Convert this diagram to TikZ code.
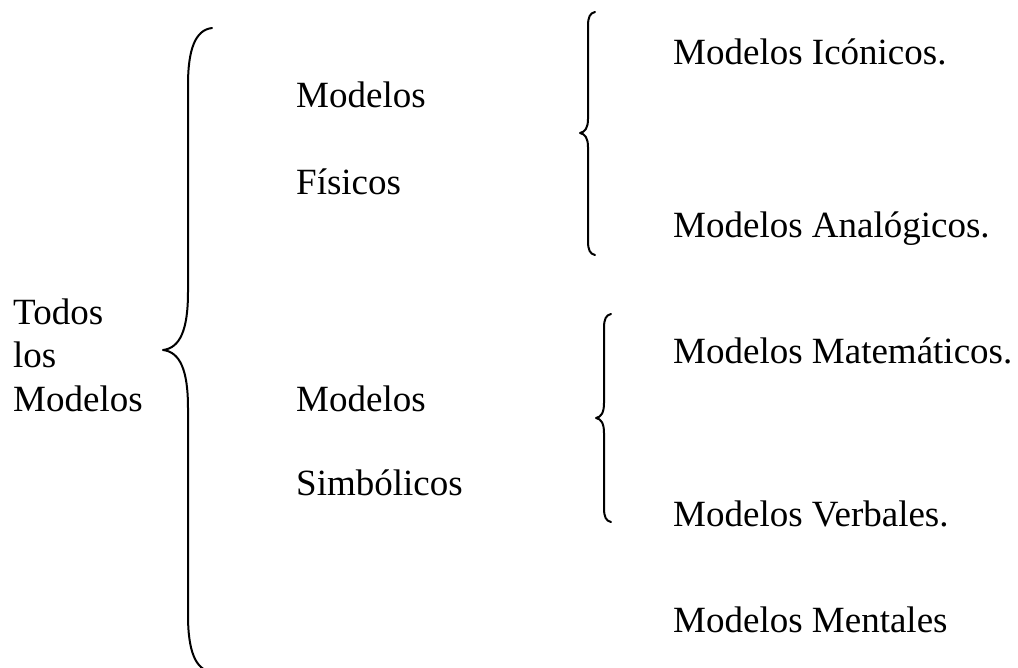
\documentclass[tikz,border=0pt]{standalone}
\usepackage{fontspec}
\setmainfont{Liberation Serif}
\begin{document}
\begin{tikzpicture}[x=1pt,y=-1pt,
  lbl/.style={anchor=base west,inner sep=0pt,font=\fontsize{37}{44}\selectfont},
  bracepath/.style={line width=2pt,line join=round,line cap=round}]
\useasboundingbox (0,0) rectangle (1018,668);
\clip (0,0) rectangle (1018,668);

% left column
\node[lbl] (todos) at (13,325) {Todos};
\node[lbl] (los)   at (13,368) {los};
\node[lbl] (mods)  at (13,411) {Modelos};

% middle column
\node[lbl] (fis1) at (296,108) {Modelos};
\node[lbl] (fis2) at (296,195) {Físicos};
\node[lbl] (sim1) at (296,412) {Modelos};
\node[lbl] (sim2) at (296,495) {Simbólicos};

% right column
\node[lbl] (ico) at (673,65)  {Modelos Icónicos.};
\node[lbl] (ana) at (673,238) {Modelos Analógicos.};
\node[lbl] (mat) at (673,364) {Modelos Matemáticos.};
\node[lbl] (ver) at (673,526) {Modelos Verbales.};
\node[lbl] (men) at (673,632) {Modelos Mentales};

% brace tips
\coordinate (bigtip) at (163,350);
\coordinate (fistip) at (580,133);
\coordinate (simtip) at (596,418);

% large brace grouping all models
\draw[bracepath] (212,28) .. controls (195,30) and (188,50) .. (188,85)
  -- (188,292) .. controls (188,330) and (180,348) .. (bigtip)
  .. controls (180,352) and (188,370) .. (188,408)
  -- (188,615) .. controls (188,650) and (195,670) .. (212,672);

% brace for physical models
\draw[bracepath] (595,12) .. controls (590,13) and (588,17) .. (588,26)
  -- (588,119) .. controls (588,128) and (585,132) .. (fistip)
  .. controls (585,134) and (588,138) .. (588,147)
  -- (588,241) .. controls (588,250) and (590,254) .. (595,255);

% brace for symbolic models
\draw[bracepath] (611,314) .. controls (606,315) and (604,319) .. (604,328)
  -- (604,403) .. controls (604,413) and (601,417) .. (simtip)
  .. controls (601,419) and (604,423) .. (604,433)
  -- (604,508) .. controls (604,517) and (606,521) .. (611,522);
\end{tikzpicture}
\end{document}
